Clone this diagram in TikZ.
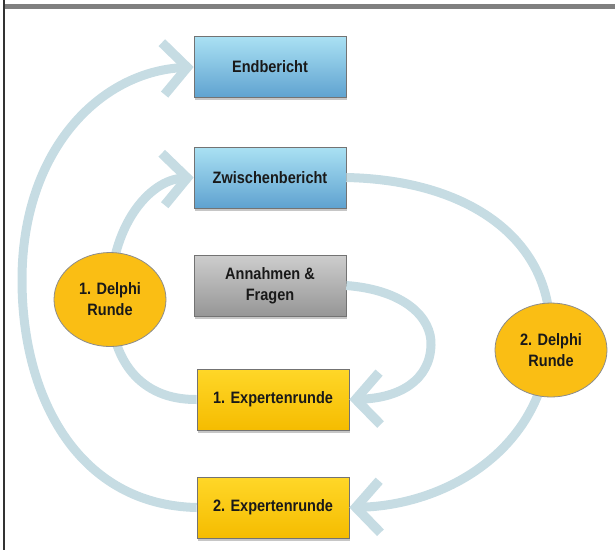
\documentclass[tikz,border=0pt]{standalone}
\usepackage{fontspec}
\setmainfont{Liberation Sans}
\newfontfamily\labelfont[FakeStretch=0.88]{Liberation Sans}
\usetikzlibrary{arrows.meta,shadows,shapes.geometric}
\definecolor{flowc}{RGB}{198,220,227}
\definecolor{bluetop}{RGB}{170,225,243}
\definecolor{bluebot}{RGB}{95,162,208}
\definecolor{graytop}{RGB}{205,205,205}
\definecolor{graybot}{RGB}{150,150,150}
\definecolor{yeltop}{RGB}{255,215,40}
\definecolor{yelbot}{RGB}{245,188,0}
\definecolor{ovalc}{RGB}{250,190,20}
\definecolor{txt}{RGB}{25,25,25}
\tikzset{
  box/.style={draw=black!55, line width=0.7pt, minimum width=152pt, minimum height=61pt,
    inner sep=0pt, align=center, text=txt, font=\labelfont\bfseries\fontsize{16.5}{21}\selectfont,
    drop shadow={shadow xshift=1pt, shadow yshift=-2.5pt, opacity=0.45}},
  bluebox/.style={box, top color=bluetop, bottom color=bluebot},
  graybox/.style={box, top color=graytop, bottom color=graybot},
  yelbox/.style={box, top color=yeltop, bottom color=yelbot},
  oval/.style={ellipse, draw=black!45, line width=0.8pt, fill=ovalc, minimum width=112pt,
    minimum height=94pt, inner sep=0pt, align=center, text=txt,
    font=\labelfont\bfseries\fontsize{16.5}{21}\selectfont},
  flow/.style={draw=flowc, line width=9pt,
    -{Straight Barb[length=24pt, width=52pt, line width=9.5pt]}},
}
\begin{document}
\begin{tikzpicture}[x=1pt, y=-1pt]
\useasboundingbox (0,0) rectangle (615,550);
% page frame
\fill[black!50] (5,3.5) rectangle (615,8.5);
\draw[black!80, line width=2pt] (4,0) -- (4,550);

% process boxes
\node[bluebox] (end) at (270,67) {Endbericht};
\node[bluebox] (zb) at (270,177.5) {Zwischenbericht};
\node[graybox] (af) at (270,285.5) {Annahmen \&\\Fragen};
\node[yelbox] (e1) at (273,399.5) {1. Expertenrunde};
\node[yelbox] (e2) at (273,507.5) {2. Expertenrunde};

% loops between the rounds
\draw[flow] (e2.west) .. controls (80,505) and (22,400) .. (22,280)
  .. controls (22,150) and (100,72) .. (end.west);
\draw[flow] (e1.west) .. controls (140,400) and (110,360) .. (110,300)
  .. controls (110,225) and (150,180) .. (zb.west);
\draw[flow] (zb.east) .. controls (470,180) and (550,240) .. (550,330)
  .. controls (550,445) and (450,505) .. (e2.east);
\draw[flow] (af.east) .. controls (405,290) and (432,318) .. (431,345)
  .. controls (430,380) and (400,398) .. (e1.east);

% Delphi rounds
\node[oval] (d1) at (110,299.5) {1. Delphi\\Runde};
\node[oval] (d2) at (551,350) {2. Delphi\\Runde};
\end{tikzpicture}
\end{document}
